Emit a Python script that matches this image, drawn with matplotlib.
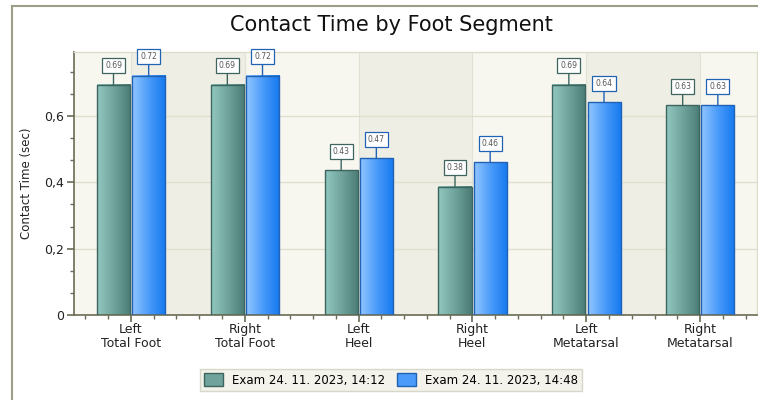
import math
import numpy as np
import matplotlib
matplotlib.use("Agg")
import matplotlib.pyplot as plt
from matplotlib.colors import LinearSegmentedColormap
from matplotlib.patches import Rectangle
from matplotlib.ticker import MultipleLocator, FuncFormatter

categories = ["Left\nTotal Foot", "Right\nTotal Foot", "Left\nHeel", "Right\nHeel",
              "Left\nMetatarsal", "Right\nMetatarsal"]
series_names = ["Exam 24. 11. 2023, 14:12", "Exam 24. 11. 2023, 14:48"]
exam1 = [0.694, 0.694, 0.436, 0.387, 0.694, 0.632]
exam2 = [0.721, 0.721, 0.472, 0.461, 0.642, 0.633]
title = "Contact Time by Foot Segment"
ylabel = "Contact Time (sec)"

plt.rcParams['font.family'] = ['DejaVu Sans']

fig = plt.figure(figsize=(7.58, 4.00), dpi=100)
fig.patch.set_facecolor("white")
ax = fig.add_axes([74/758, 1-315/400, 683/758, 263/400])

n = len(categories)
x = np.arange(n)
ax.set_xlim(-0.5, n - 0.5)
ax.set_ylim(0, 0.793)

# background bands
light, dark = "#F7F7F0", "#EFEEE4"
ax.set_facecolor(light)
for i in range(n - 1):
    if i % 2 == 0:
        ax.axvspan(i, i + 1, color=dark, zorder=0, lw=0)
for xi in x:
    ax.axvline(xi, color="#E2E2D4", lw=0.8, zorder=0.5)
for yv in [0.2, 0.4, 0.6]:
    ax.axhline(yv, color="#E0DFCF", lw=1.0, zorder=0.5)

cmaps = [
    LinearSegmentedColormap.from_list("g", ["#93C8C1", "#6FA39C", "#4A7C75"]),
    LinearSegmentedColormap.from_list("b", ["#93C6FF", "#4A9BFA", "#1479EE"]),
]
edges = ["#3C655F", "#2262B5"]
box_edges = ["#3C655F", "#2262B5"]
mid_colors = ["#6FA39C", "#4A9BFA"]
width = 0.29
offsets = [-0.153, 0.156]
grad = np.linspace(0, 1, 256).reshape(1, -1)

for s, vals in enumerate([exam1, exam2]):
    bars = ax.bar(x + offsets[s], vals, width=width, color="none",
                  edgecolor=edges[s], linewidth=1.0, zorder=3)
    for b, v in zip(bars, vals):
        x0, w = b.get_x(), b.get_width()
        ax.imshow(grad, cmap=cmaps[s], aspect="auto",
                  extent=(x0, x0 + w, 0, v), zorder=2, interpolation="bilinear")
        lab = f"{math.floor(v * 100 + 1e-9) / 100:.2f}"
        ax.annotate(lab, xy=(x0 + w / 2, v), xytext=(0, 19),
                    textcoords="offset pixels", ha="center", va="center",
                    fontsize=5.5, color="#555555", zorder=5,
                    bbox=dict(boxstyle="square,pad=0.4", fc="white",
                              ec=box_edges[s], lw=0.9),
                    arrowprops=dict(arrowstyle="-", color=edges[s], lw=1.0,
                                    shrinkA=0, shrinkB=0))

ax.set_xlim(-0.5, n - 0.5)
ax.set_ylim(0, 0.793)

ax.set_xticks(x)
ax.set_xticklabels(categories, fontsize=9, color="#222222", linespacing=1.1)
ax.xaxis.set_minor_locator(MultipleLocator(0.2))
ax.set_yticks([0, 0.2, 0.4, 0.6])
ax.yaxis.set_major_formatter(FuncFormatter(lambda v, p: "0" if v == 0 else f"{v:.1f}".replace(".", ",")))
ax.yaxis.set_minor_locator(MultipleLocator(0.2 / 3))
ax.tick_params(axis="both", which="major", length=5, width=1.2, color="#6B6B55",
               labelsize=9, labelcolor="#222222", pad=2)
ax.tick_params(axis="both", which="minor", length=3, width=1.0, color="#6B6B55")
ax.tick_params(axis="x", which="major", pad=1)

for side in ["left", "bottom"]:
    ax.spines[side].set_color("#6B6B55")
    ax.spines[side].set_linewidth(1.2)
for side in ["top", "right"]:
    ax.spines[side].set_color("#DCDCCB")
    ax.spines[side].set_linewidth(1.0)

ax.set_ylabel(ylabel, fontsize=8.5, color="#222222")
ax.yaxis.set_label_coords(-0.060, 0.5)

fig.text(0.516, 0.937, title, ha="center", va="center", fontsize=15, color="#111111")

# legend
handles = [Rectangle((0, 0), 1, 1, fc=mid_colors[i], ec=edges[i], lw=1.0) for i in range(2)]
leg = fig.legend(handles, series_names, loc="center", bbox_to_anchor=(391/758, 1 - 380/400),
                 ncol=2, fontsize=8.5, frameon=True, fancybox=False,
                 handlelength=1.6, handleheight=1.3, columnspacing=1.0,
                 handletextpad=0.8, borderpad=0.35)
leg.get_frame().set_facecolor("#F0EFE6")
leg.get_frame().set_edgecolor("#CFCFC0")
leg.get_frame().set_linewidth(1.0)

# outer frame lines
fig.add_artist(plt.Line2D([12/758, 1], [1 - 6/400, 1 - 6/400], color="#9E9E86", lw=1.5,
                          transform=fig.transFigure))
fig.add_artist(plt.Line2D([12/758, 12/758], [0, 1 - 6/400], color="#9E9E86", lw=1.5,
                          transform=fig.transFigure))

fig.savefig("out.png", dpi=100)
